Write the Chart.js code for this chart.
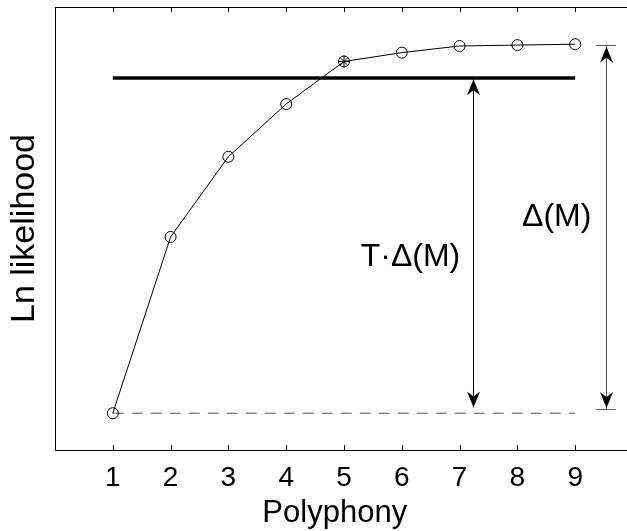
<!DOCTYPE html>
<html>
<head>
<meta charset="utf-8">
<script src="https://cdn.jsdelivr.net/npm/chart.js@4.4.1/dist/chart.umd.min.js"></script>
<style>
html, body { margin: 0; padding: 0; background: #fff; overflow: hidden; }
#wrap { width: 640px; height: 531px; }
</style>
</head>
<body>
<div id="wrap"><canvas id="chart" width="640" height="531"></canvas></div>
<script>
// ── 資料 ──
const polyphony = [1, 2, 3, 4, 5, 6, 7, 8, 9];
const lnLikelihood = [8.3, 48.1, 66.2, 78.1, 87.7, 89.7, 91.2, 91.4, 91.6];
const chosenIndex = 4;          // 被選中的 polyphony (星號)
const thresholdLevel = 84.0;    // 粗橫線
const baseLevel = 8.3;          // 虛線
const xTicks = [1, 2, 3, 4, 5, 6, 7, 8, 9];

// 箭頭 (T·Δ(M), Δ(M))
const arrowX = [7.24, 9.525];
const arrowTop = [83.7, 91.0];
const arrowBottom = [9.6, 9.5];
const lineTop = [83.7, 91.4];
const lineBottom = [9.6, 9.3];
const capX = [9.36, 9.70];
const capY = [91.4, 9.3];

// 文字標註
const labelText = ['T·Δ(M)', 'Δ(M)'];
const labelX = [6.15, 8.68];
const labelY = [43.6, 52.6];
const xTitle = 'Polyphony';
const xTitleAt = 4.84;

const FONT = "'Liberation Sans', Arial, sans-serif";

// ── 外框、刻度、箭頭與文字 ──
const annotations = {
    id: 'annotations',
    afterDatasetsDraw(chart) {
        const { ctx, chartArea: a, scales: { x, y } } = chart;
        ctx.save();
        ctx.strokeStyle = '#000';
        ctx.lineWidth = 1;

        // 外框
        ctx.strokeRect(Math.round(a.left) + 0.5, Math.round(a.top) + 0.5,
            a.right - a.left, a.bottom - a.top);

        // 朝內的刻度（上下）
        ctx.beginPath();
        xTicks.forEach(v => {
            const px = Math.round(x.getPixelForValue(v)) + 0.5;
            ctx.moveTo(px, a.bottom); ctx.lineTo(px, a.bottom - 5);
            ctx.moveTo(px, a.top); ctx.lineTo(px, a.top + 5);
        });
        ctx.stroke();

        // 箭頭
        arrowX.forEach((ax, i) => {
            const px = Math.round(x.getPixelForValue(ax)) + 0.5;
            ctx.strokeStyle = i === 0 ? '#000' : '#555';
            ctx.beginPath();
            ctx.moveTo(px, y.getPixelForValue(lineTop[i]));
            ctx.lineTo(px, y.getPixelForValue(lineBottom[i]));
            ctx.stroke();
            drawHead(ctx, px, y.getPixelForValue(arrowTop[i]), -1);
            drawHead(ctx, px, y.getPixelForValue(arrowBottom[i]), 1);
        });

        // Δ(M) 兩端短橫線
        ctx.strokeStyle = '#555';
        ctx.beginPath();
        capY.forEach(cy => {
            const py = Math.round(y.getPixelForValue(cy)) + 0.5;
            ctx.moveTo(x.getPixelForValue(capX[0]), py);
            ctx.lineTo(x.getPixelForValue(capX[1]), py);
        });
        ctx.stroke();

        // 文字
        ctx.fillStyle = '#000';
        ctx.font = '32px ' + FONT;
        ctx.textAlign = 'center';
        ctx.textBaseline = 'middle';
        labelText.forEach((t, i) => {
            ctx.fillText(t, x.getPixelForValue(labelX[i]), y.getPixelForValue(labelY[i]));
        });

        // X 軸標題
        ctx.font = '31px ' + FONT;
        ctx.textBaseline = 'alphabetic';
        ctx.fillText(xTitle, x.getPixelForValue(xTitleAt), 522);
        ctx.restore();
    }
};

function drawHead(ctx, px, tipY, dir) {
    ctx.fillStyle = '#000';
    ctx.beginPath();
    ctx.moveTo(px, tipY);
    ctx.lineTo(px - 6.5, tipY - dir * 16);
    ctx.lineTo(px, tipY - dir * 11);
    ctx.lineTo(px + 6.5, tipY - dir * 16);
    ctx.closePath();
    ctx.fill();
}

const pts = polyphony.map((p, i) => ({ x: p, y: lnLikelihood[i] }));
const first = polyphony[0];
const last = polyphony[polyphony.length - 1];

new Chart(document.getElementById('chart'), {
    type: 'line',
    data: {
        datasets: [
            {
                data: pts,
                borderColor: '#000',
                borderWidth: 1,
                pointStyle: 'circle',
                pointRadius: 5.5,
                pointBorderColor: '#000',
                pointBackgroundColor: 'rgba(0,0,0,0)',
                pointBorderWidth: 1,
                tension: 0,
            },
            {
                data: [pts[chosenIndex]],
                showLine: false,
                pointStyle: 'star',
                pointRadius: 6,
                pointBorderColor: '#000',
                pointBorderWidth: 1,
            },
            {
                data: [{ x: first, y: thresholdLevel }, { x: last, y: thresholdLevel }],
                borderColor: '#000',
                borderWidth: 3.5,
                pointRadius: 0,
            },
            {
                data: [{ x: first, y: baseLevel }, { x: last, y: baseLevel }],
                borderColor: '#555',
                borderWidth: 1,
                borderDash: [11, 8],
                pointRadius: 0,
            },
        ],
    },
    options: {
        responsive: false,
        animation: false,
        layout: { padding: { top: 7, right: 5, left: 0, bottom: 0 } },
        plugins: { legend: { display: false }, tooltip: { enabled: false } },
        scales: {
            x: {
                type: 'linear',
                min: 0,
                max: 10,
                afterBuildTicks: s => { s.ticks = xTicks.map(v => ({ value: v })); },
                afterFit: s => { s.height = 81; },
                grid: { display: false, drawTicks: false },
                border: { display: false },
                ticks: { color: '#000', padding: 11, font: { family: FONT, size: 28 } },
                title: { display: false },
            },
            y: {
                min: 0,
                max: 100,
                afterFit: s => { s.width = 55; },
                grid: { display: false, drawTicks: false },
                border: { display: false },
                ticks: { display: false },
                title: {
                    display: true,
                    text: 'Ln likelihood',
                    color: '#000',
                    padding: { top: 8, bottom: 0 },
                    font: { family: FONT, size: 34, lineHeight: 1 },
                },
            },
        },
    },
    plugins: [annotations],
});
</script>
</body>
</html>
